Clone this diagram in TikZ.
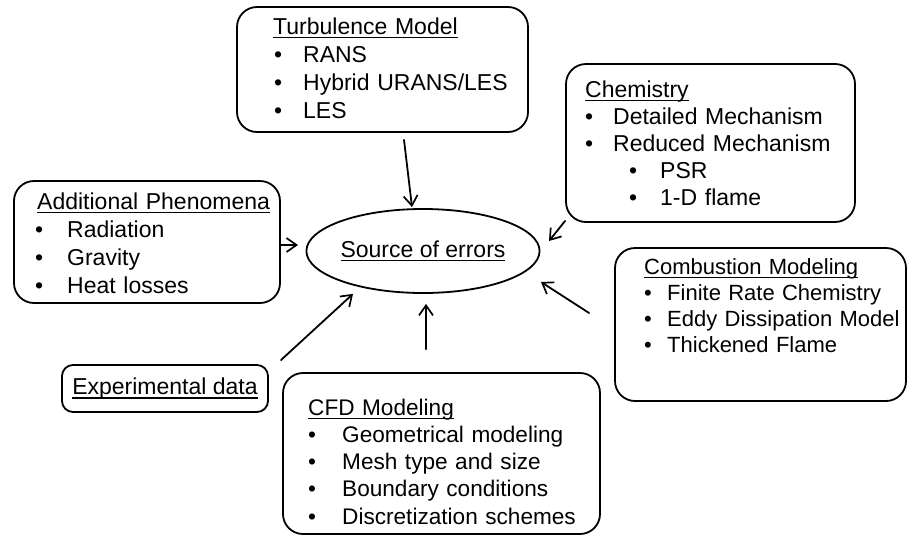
\documentclass[tikz,border=0pt]{standalone}
\usepackage{fontspec}
\setmainfont{Liberation Sans}
\usetikzlibrary{arrows.meta,calc,shapes.geometric}
\newcommand{\ulttl}[1]{\setbox0\hbox{#1}\rlap{\rule[-4.2pt]{\wd0}{1.4pt}}\box0}
\newcommand{\bitem}[2]{\makebox[#1][l]{\hspace*{#2}\textbullet}}

\begin{document}
\begin{tikzpicture}[x=1pt,y=-1pt,line cap=round,line join=round,
 font=\fontsize{23}{27.5}\selectfont,
 box/.style={draw,line width=1.8pt,rounded corners=20pt,inner sep=0pt},
 txt/.style={anchor=base west,inner sep=0pt,text width=320pt,align=left},
 arr/.style={-{Straight Barb[length=10pt,width=14pt,line width=1.7pt]},line width=1.8pt}]
 \useasboundingbox (0,0) rectangle (907,536);
 % frames
 \node[box,minimum width=291pt,minimum height=125pt] (turb) at (382.5,69.5) {};
 \node[box,minimum width=289pt,minimum height=158pt] (chem) at (710.5,143) {};
 \node[box,minimum width=266pt,minimum height=122pt] (addl) at (147,242) {};
 \node[box,minimum width=291pt,minimum height=153pt] (comb) at (760.5,324.5) {};
 \node[box,minimum width=317pt,minimum height=161pt] (cfd) at (441.5,453.5) {};
 \node[box,rounded corners=11pt,minimum width=206pt,minimum height=47pt] (expt)
  at (165,388.5) {\ulttl{Experimental data}};
 \node[draw,ellipse,line width=1.8pt,minimum width=197pt,minimum height=84pt,
  inner sep=0pt] (src) at (423,251) {\ulttl{Source of errors}};
 % lists
 \node[txt,font=\fontsize{23}{28}\selectfont] (turb-txt) at (273,34) {\ulttl{Turbulence Model}\\
  \bitem{30pt}{1pt}RANS\\
  \bitem{30pt}{1pt}Hybrid URANS/LES\\
  \bitem{30pt}{1pt}LES};
 \node[txt,font=\fontsize{23}{27}\selectfont] (chem-txt) at (585,97) {\ulttl{Chemistry}\\
  \bitem{28pt}{0pt}Detailed Mechanism\\
  \bitem{28pt}{0pt}Reduced Mechanism\\
  \bitem{75pt}{44pt}PSR\\
  \bitem{75pt}{44pt}1-D flame};
 \node[txt,font=\fontsize{23}{28}\selectfont] (addl-txt) at (37,209) {\ulttl{Additional Phenomena}\\
  \bitem{30pt}{-2pt}Radiation\\
  \bitem{30pt}{-2pt}Gravity\\
  \bitem{30pt}{-2pt}Heat losses};
 \node[txt,font=\fontsize{22}{26}\selectfont] (comb-txt) at (644,274) {\ulttl{Combustion Modeling}\\
  \bitem{23pt}{0pt}Finite Rate Chemistry\\
  \bitem{23pt}{0pt}Eddy Dissipation Model\\
  \bitem{23pt}{0pt}Thickened Flame};
 \node[txt,font=\fontsize{22.6}{27.25}\selectfont] (cfd-txt) at (308,415) {\ulttl{CFD Modeling}\\
  \bitem{34pt}{0pt}Geometrical modeling\\
  \bitem{34pt}{0pt}Mesh type and size\\
  \bitem{34pt}{0pt}Boundary conditions\\
  \bitem{34pt}{0pt}Discretization schemes};
 % arrows into the ellipse
 \draw[arr] ($(turb.south)+(21.5,7)$) -- ($(src.north)+(-11,-1)$);
 \draw[arr] ($(chem.south west)+(0,-2)$) -- ($(src.east)+(8.5,-10)$);
 \draw[arr] ($(addl.east)+(0,3)$) -- ($(src.west)+(-7.5,-6)$);
 \draw[arr] ($(comb.west)+(-25,-11.5)$) -- ($(src.east)+(0.5,31)$);
 \draw[arr] ($(expt.north east)+(12,-4)$) -- ($(src.south)+(-70,0)$);
 \draw[arr] ($(cfd.north)+(-15.5,-23)$) -- ($(src.south)+(3,10)$);
\end{tikzpicture}
\end{document}
